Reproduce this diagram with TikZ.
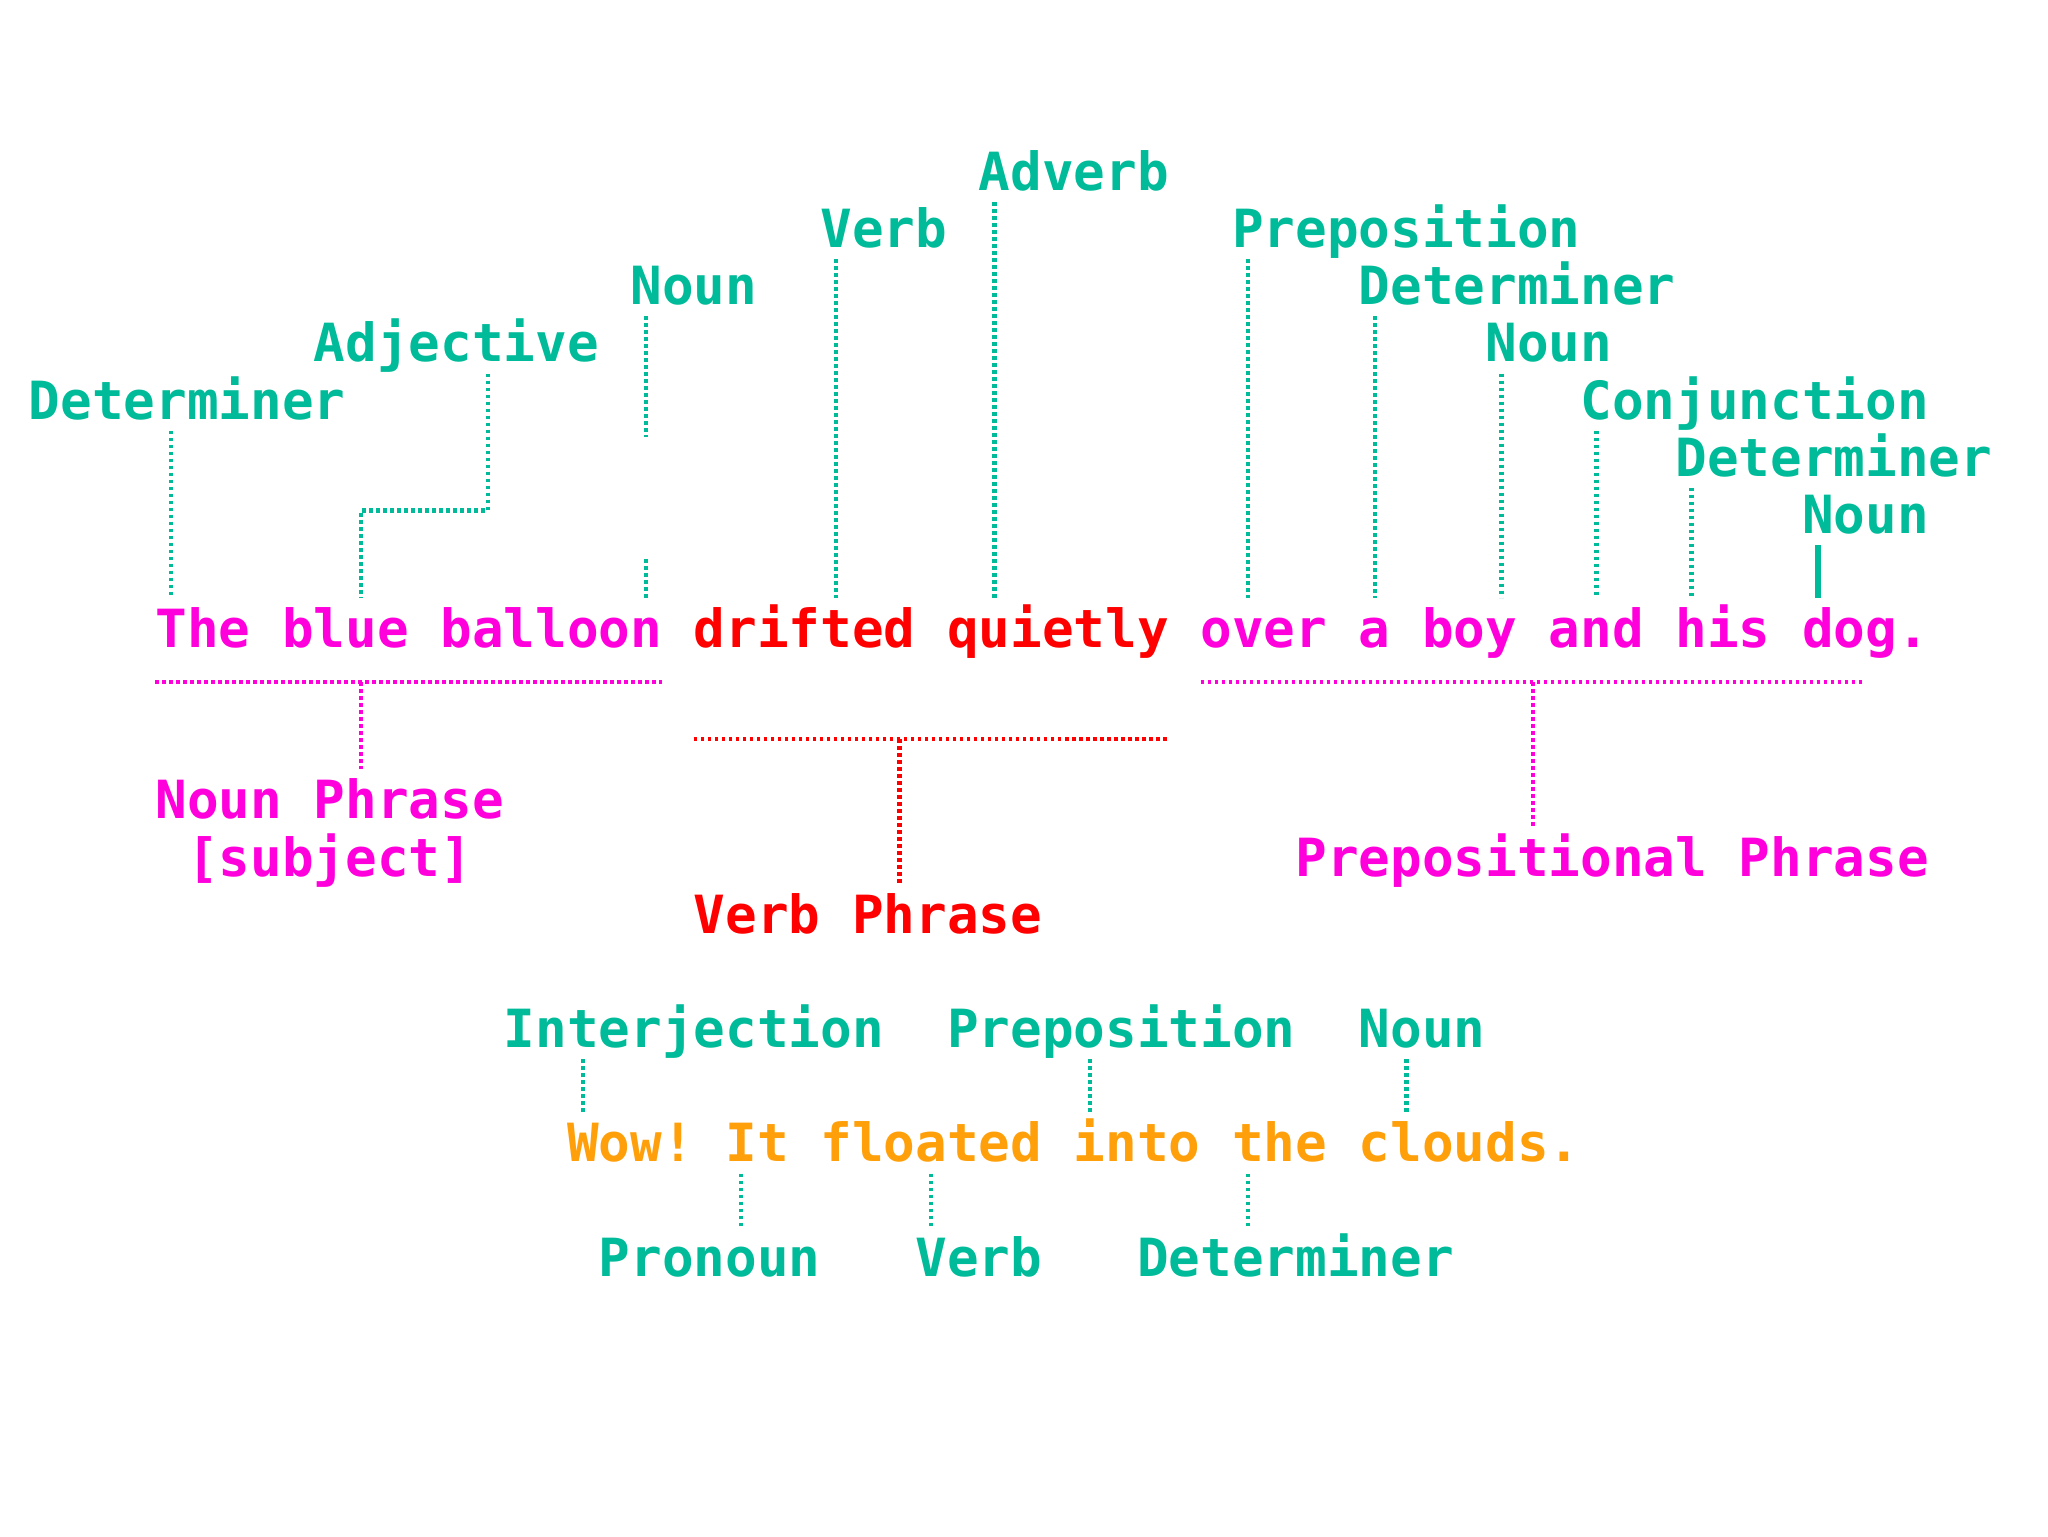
\documentclass[tikz,border=0pt]{standalone}
\usepackage{fontspec}
\newfontfamily\dosfont{DejaVu Sans Mono}
\definecolor{posteal}{HTML}{00BB99}
\definecolor{phrmag}{HTML}{FF00DD}
\definecolor{phrred}{HTML}{FF0000}
\definecolor{sentorange}{HTML}{FFA00A}

\begin{document}
\begin{tikzpicture}[x=9.5pt,y=-17.14pt,
    word/.style={anchor=base west,inner sep=0pt,outer xsep=0pt,outer ysep=3.5pt,
      text height=11.5pt,text depth=0pt,
      font=\dosfont\bfseries\fontsize{15.78pt}{17pt}\selectfont\frenchspacing},
    postag/.style={word,text=posteal},
    tie/.style={line width=1.3pt,dash pattern=on 1.1pt off 1pt}]
      \fill[white] (-0.906,-2.993) rectangle (63.76,23.89);
      %this draws the labels over the first sentence
      \node [postag] (det1) at (0,4.34) {Determiner};
      \node [postag] (adj) at (9,3.34) {Adjective};
      \node [postag] (noun1) at (19,2.34) {Noun};
      \node [postag] (verb1) at (25,1.34) {Verb};
      \node [postag] (adv) at (30,0.34) {Adverb};
      \node [postag] (prep1) at (38,1.34) {Preposition};
      \node [postag] (det2) at (42,2.34) {Determiner};
      \node [postag] (noun2) at (46,3.34) {Noun};
      \node [postag] (conj) at (49,4.34) {Conjunction};
      \node [postag] (det3) at (52,5.34) {Determiner};
      \node [postag] (noun3) at (56,6.34) {Noun};
      %this draws the first sentence
      \node [word,text=phrmag] (np) at (4,8.34) {The blue balloon};
      \node [word,text=phrred] (vp) at (21,8.34) {drifted quietly};
      \node [word,text=phrmag] (pp) at (37,8.34) {over a boy and his dog.};
      %this draws the phrase names
      \node [word,text=phrmag] (nplab) at (4,11.34) {Noun Phrase};
      \node [word,text=phrmag] (npsub) at (5,12.34) {[subject]};
      \node [word,text=phrmag] (pplab) at (40,12.34) {Prepositional Phrase};
      \node [word,text=phrred] (vplab) at (21,13.34) {Verb Phrase};
      %this draws the lines to the first sentence
      \coordinate (adjbend) at (10.5,5.94);
      \draw[tie,posteal] (4.5,0 |- det1.south) -- (4.5,0 |- np.north);
      \draw[tie,posteal] (14.5,0 |- adj.south) |- (adjbend) -- (10.5,0 |- np.north);
      \draw[tie,posteal] (19.5,0 |- noun1.south) -- (19.5,4.66);
      \draw[tie,posteal] (19.5,6.79) -- (19.5,0 |- np.north);
      \foreach \lab/\x in {verb1/25.5,adv/30.5}
        \draw[tie,posteal] (\x,0 |- \lab.south) -- (\x,0 |- vp.north);
      \foreach \lab/\x in {prep1/38.5,det2/42.5,noun2/46.5,conj/49.5,det3/52.5}
        \draw[tie,posteal] (\x,0 |- \lab.south) -- (\x,0 |- pp.north);
      \draw[line width=2pt,posteal] (56.5,0 |- noun3.south) -- (56.5,0 |- pp.north);
      %this draws the phrase brackets
      \coordinate (npline) at (4,8.94);
      \coordinate (vpline) at (21,9.94);
      \coordinate (ppline) at (37,8.94);
      \draw[tie,phrmag] (npline) -- (20,8.94);
      \draw[tie,phrmag] (10.5,0 |- npline) -- (10.5,0 |- nplab.north);
      \draw[tie,phrred] (vpline) -- (36,9.94);
      \draw[tie,phrred] (27.5,0 |- vpline) -- (27.5,0 |- vplab.north);
      \draw[tie,phrmag] (ppline) -- (57.9,8.94);
      \draw[tie,phrmag] (47.5,0 |- ppline) -- (47.5,0 |- pplab.north);
      %this draws the second sentence and its labels
      \node [postag] (intj) at (15,15.34) {Interjection};
      \node [postag] (prep2) at (29,15.34) {Preposition};
      \node [postag] (noun4) at (42,15.34) {Noun};
      \node [word,text=sentorange] (wow) at (17,17.34) {Wow! It floated into the clouds.};
      \node [postag] (pron) at (18,19.34) {Pronoun};
      \node [postag] (verb2) at (28,19.34) {Verb};
      \node [postag] (det4) at (35,19.34) {Determiner};
      \foreach \lab/\x in {intj/17.5,prep2/33.5,noun4/43.5}
        \draw[tie,posteal] (\x,0 |- \lab.south) -- (\x,0 |- wow.north);
      \foreach \lab/\x in {pron/22.5,verb2/28.5,det4/38.5}
        \draw[tie,posteal] (\x,0 |- wow.south) -- (\x,0 |- \lab.north);
\end{tikzpicture}
\end{document}
